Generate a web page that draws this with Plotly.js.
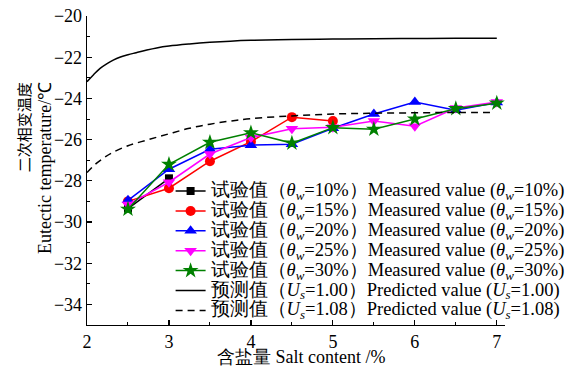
<!DOCTYPE html>
<html>
<head>
<meta charset="utf-8">
<script src="https://cdn.plot.ly/plotly-3.0.1.min.js"></script>
<style>
  html, body { margin: 0; padding: 0; background: #fff; }
  #chart { width: 571px; height: 367px; }
</style>
</head>
<body>
<div id="chart"></div>
<script>
// Salt content (%) at which the measured series were sampled
const saltContent = [2.5, 3, 3.5, 4, 4.5, 5, 5.5, 6, 6.5, 7];

// Measured eutectic temperature (°C) for each water content
const measured10 = [-29.35, -27.88];
const measured15 = [-29.0, -28.36, -27.05, -26.1, -24.91, -25.1];
const measured20 = [-28.95, -27.44, -26.47, -26.27, -26.22, -25.45, -24.76, -24.18, -24.58, -24.2];
const measured25 = [-29.15, -28.07, -26.7, -25.9, -25.47, -25.4, -25.1, -25.35, -24.47, -24.18];
const measured30 = [-29.38, -27.2, -26.13, -25.67, -26.17, -25.42, -25.5, -25.0, -24.5, -24.23];

// Predicted curves
const predSaltA = [2, 2.08, 2.16, 2.24, 2.32, 2.4, 2.5, 2.6, 2.73, 2.85, 3, 3.25, 3.5, 3.75, 4, 4.5, 5, 5.5, 6, 6.5, 7];
const predictedUs100 = [-23.19, -22.85, -22.54, -22.32, -22.14, -22.0, -21.88, -21.78, -21.65, -21.55, -21.46, -21.36, -21.28, -21.22, -21.18, -21.14, -21.12, -21.1, -21.09, -21.08, -21.08];
const predSaltB = [2, 2.1, 2.2, 2.3, 2.5, 2.75, 3, 3.25, 3.5, 3.75, 4, 4.5, 5, 5.5, 6, 6.5, 6.95];
const predictedUs108 = [-27.6, -27.2, -26.9, -26.65, -26.3, -26.0, -25.72, -25.45, -25.25, -25.1, -24.98, -24.85, -24.76, -24.72, -24.7, -24.68, -24.68];

const serif = 'Liberation Serif';
const big = s => '<span style="font-size:18.5px">' + s + '</span>';
const thetaName = p => big('试验值（<i>θ<sub>w</sub></i>=' + p + '%）Measured value (<i>θ<sub>w</sub></i>=' + p + '%)');
const usName = v => big('预测值（<i>U<sub>s</sub></i>=' + v + '）Predicted value (<i>U<sub>s</sub></i>=' + v + ')');

function measuredTrace(y, name, color, symbol, size) {
  return {
    x: saltContent.slice(0, y.length), y: y, name: name,
    type: 'scatter', mode: 'lines+markers',
    line: { color: color, width: 1.5 },
    marker: { color: color, symbol: symbol, size: size, line: { width: 0 } }
  };
}

const traces = [
  measuredTrace(measured10, thetaName(10), '#000000', 'square', 8),
  measuredTrace(measured15, thetaName(15), '#ff0000', 'circle', 10),
  measuredTrace(measured20, thetaName(20), '#0000ff', 'triangle-up', 11),
  measuredTrace(measured25, thetaName(25), '#ff00ff', 'triangle-down', 11),
  measuredTrace(measured30, thetaName(30), '#008000', 'star', 12),
  {
    x: predSaltA, y: predictedUs100, name: usName('1.00'),
    type: 'scatter', mode: 'lines', line: { color: '#000', width: 1.5, shape: 'spline' }
  },
  {
    x: predSaltB, y: predictedUs108, name: usName('1.08'),
    type: 'scatter', mode: 'lines', line: { color: '#000', width: 1.5, dash: '7px,5px', shape: 'spline' }
  }
];

const axisCommon = {
  showline: true, linecolor: '#000', linewidth: 1.3,
  ticks: 'inside', ticklen: 5, tickwidth: 1.2, tickcolor: '#000',
  showgrid: false, zeroline: false, mirror: false,
  tickfont: { family: serif, size: 18, color: '#000' }
};

const layout = {
  width: 571, height: 367,
  margin: { l: 87, r: 66, t: 16, b: 42, autoexpand: false },
  paper_bgcolor: '#fff', plot_bgcolor: '#fff',
  showlegend: true,
  font: { family: serif, color: '#000' },
  xaxis: Object.assign({}, axisCommon, {
    range: [2, 7.1], dtick: 1, tick0: 2,
    minor: { dtick: 0.5, ticks: 'inside', ticklen: 3, tickcolor: '#000', tickwidth: 1 }
  }),
  yaxis: Object.assign({}, axisCommon, {
    range: [-35, -20], dtick: 2, tick0: -20,
    minor: { dtick: 1, ticks: 'inside', ticklen: 3, tickcolor: '#000', tickwidth: 1 }
  }),
  legend: {
    x: 0.2, xanchor: 'left', y: 0.482, yanchor: 'top',
    bgcolor: 'rgba(0,0,0,0)', borderwidth: 0,
    font: { family: serif, size: 13, color: '#000' },
    tracegroupgap: 0
  },
  annotations: [
    {
      text: '含盐量 Salt content /%', showarrow: false,
      xref: 'paper', yref: 'paper', x: 0.513, y: -0.104, xanchor: 'center', yanchor: 'middle',
      font: { family: serif, size: 18, color: '#000' }
    },
    {
      text: '二次相变温度', textangle: -90, showarrow: false,
      xref: 'paper', yref: 'y', x: -0.15, y: -23.1, xanchor: 'center', yanchor: 'top',
      font: { family: 'Noto Sans CJK SC', size: 15, color: '#000' }
    },
    {
      text: 'Eutectic temperature/℃', textangle: -90, showarrow: false,
      xref: 'paper', yref: 'y', x: -0.1, y: -23.1, xanchor: 'center', yanchor: 'top',
      font: { family: serif, size: 18, color: '#000' }
    }
  ]
};

Plotly.newPlot('chart', traces, layout, { displayModeBar: false, staticPlot: true });
</script>
</body>
</html>
